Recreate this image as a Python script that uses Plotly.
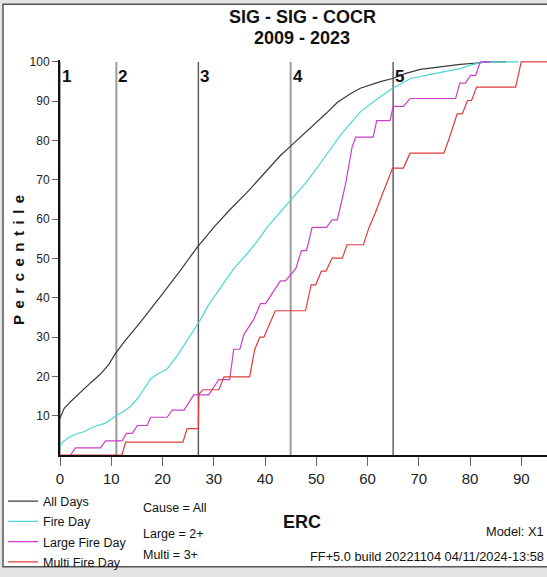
import plotly.graph_objects as go

# ---------------- data ----------------
title_lines = ["SIG - SIG - COCR", "2009 - 2023"]
x_label = "ERC"
y_label = "Percentile"
series_names = ["All Days", "Fire Day", "Large Fire Day", "Multi Fire Day"]

all_days_erc = [0, 0.8, 2, 4, 6, 7.9, 9.5, 10.8, 12.8, 15.7, 18, 20, 23.5, 26.8, 30, 33,
                36.5, 40.4, 43, 45, 47, 49.5, 52, 54.1, 56.5, 58.6, 60.5, 62.5, 64.9,
                67.5, 70.3, 74, 78.1, 82, 84, 87]
all_days_pct = [9.3, 11.8, 13.5, 16.0, 18.4, 20.6, 23.0, 25.8, 29.2, 33.8, 37.6, 41.0, 47.0,
                52.9, 57.9, 62.2, 66.8, 72.6, 76.2, 78.6, 81.0, 83.9, 87.0, 89.7, 91.8,
                93.3, 94.2, 95.0, 95.8, 97.1, 98.1, 98.8, 99.4, 99.8, 100, 100]

fire_erc = [0, 0.5, 1.2, 2.05, 3.3, 4.65, 6.6, 8.9, 10.8, 12.3, 13.8, 15.2, 16.4, 17.7,
            19.3, 20.9, 22.9, 23.5, 25.5, 27.4, 29, 30.7, 32.3, 33.9, 36.5, 38.5, 40.4,
            42.7, 45.0, 48.2, 51.5, 54.7, 58.6, 61.9, 64.9, 68.4, 72, 76.2, 78.1, 80.1,
            82.7, 89.5]
fire_pct = [2.2, 3.2, 4.0, 4.7, 5.4, 5.9, 7.2, 8.1, 9.9, 11.0, 12.4, 14.5, 16.8, 19.4,
            20.8, 21.9, 25.3, 26.5, 30.5, 34.4, 38.2, 41.5, 44.5, 47.4, 51.2, 54.4, 57.9,
            61.3, 64.6, 69.6, 75.5, 81.4, 87.3, 90.6, 93.3, 95.8, 96.8, 97.7, 98.3, 99.2,
            100, 100]

large_erc = [2.05, 3.0, 7.9, 8.9, 12.1, 12.97, 14.1, 15.1, 17.0, 17.7, 20.9, 21.9, 24.2,
             26.1, 29.0, 31.0, 33.1, 33.9, 35.1, 35.9, 37.8, 39.1, 40.1, 43.0, 44.0, 46.0,
             47.1, 48.1, 49.2, 52.0, 53.1, 54.1, 55.7, 57.0, 57.7, 61.1, 61.8, 64.4, 65.0,
             67.0, 68.3, 77.2, 78.0, 79.1, 80.1, 81.1, 82.0, 84.0]
large_pct = [0, 1.8, 1.8, 3.6, 3.6, 5.5, 5.5, 7.5, 7.5, 9.6, 9.6, 11.4, 11.4, 15.3, 15.3,
             19.2, 19.2, 26.9, 26.9, 30.7, 34.5, 38.5, 38.5, 44.3, 44.3, 47.4, 52.0, 52.0,
             57.9, 57.9, 59.8, 59.8, 68.8, 78.4, 80.9, 80.9, 85.1, 85.1, 88.7, 88.7, 90.7,
             90.7, 94.6, 94.6, 96.6, 96.6, 100, 100]

multi_erc = [0, 12.1, 12.8, 24.0, 24.8, 27.0, 27.1, 27.9, 31.0, 32.0, 37.0, 38.0, 39.0,
             39.8, 42.0, 47.9, 49.0, 49.9, 51.0, 51.9, 53.1, 55.1, 56.0, 59.2, 60.3, 61.5,
             62.5, 63.5, 64.9, 67.0, 68.3, 74.9, 75.9, 77.5, 78.5, 79.5, 80.3, 81.3, 88.9,
             90.0, 96]
multi_pct = [0, 0, 3.3, 3.3, 6.7, 6.7, 15.5, 16.6, 16.6, 19.9, 19.9, 26.9, 30.0, 30.0,
             36.7, 36.7, 43.3, 43.3, 46.8, 46.8, 50.1, 50.1, 53.5, 53.5, 57.9, 61.5, 65.0,
             68.5, 73.0, 73.0, 76.8, 76.8, 80.4, 86.8, 86.8, 90.2, 90.2, 93.6, 93.6, 100, 100]

marker_erc = [0, 11, 27, 45, 65]
marker_labels = ["1", "2", "3", "4", "5"]
x_ticks = [0, 10, 20, 30, 40, 50, 60, 70, 80, 90]
y_ticks = [10, 20, 30, 40, 50, 60, 70, 80, 90, 100]
notes_left = ["Cause = All", "Large = 2+", "Multi = 3+"]
model_text = "Model: X1"
build_text = "FF+5.0 build 20221104 04/11/2024-13:58"

# ---------------- layout geometry ----------------
W, H = 547, 577
ML, MR, MT, MB = 60, 0, 60, 116
PW, PH = W - ML - MR, H - MT - MB
PX_PER_ERC = 5.125
X_MAX = PW / PX_PER_ERC
Y_MAX = 100.5

def px2x(px):
    return (px - ML) / PW

def py2y(py):
    return (H - MB - py) / PH

FONT = "Liberation Sans, Arial, sans-serif"

colors = ["#3a3a3a", "#4dd6d6", "#cc3fcc", "#e03c3c"]
marker_colors = ["#777777", "#9a9a9a", "#555555", "#9a9a9a", "#555555"]
marker_widths = [1.3, 2, 1.4, 2, 1.4]

fig = go.Figure()

# vertical marker lines
for i, v in enumerate(marker_erc):
    fig.add_trace(go.Scatter(x=[v, v], y=[0, 100], mode="lines",
                             line=dict(color=marker_colors[i], width=marker_widths[i]),
                             showlegend=False, hoverinfo="skip"))

series = [(all_days_erc, all_days_pct), (fire_erc, fire_pct),
          (large_erc, large_pct), (multi_erc, multi_pct)]
for k, ((xs, ys), name, c) in enumerate(zip(series, series_names, colors)):
    fig.add_trace(go.Scatter(x=xs, y=ys, mode="lines", name=name, legendgroup="g%d" % k,
                             line=dict(color=c, width=1.2)))

annotations = []
# title
for txt, cy in zip(title_lines, [16.5, 38]):
    annotations.append(dict(text="<b>%s</b>" % txt, x=px2x(302), y=py2y(cy),
                            xref="paper", yref="paper", showarrow=False, xanchor="center",
                            yanchor="middle", font=dict(family=FONT, size=18, color="#111")))
# marker labels
for v, lab in zip(marker_erc, marker_labels):
    annotations.append(dict(text="<b>%s</b>" % lab, x=v, y=py2y(76.3), xref="x",
                            yref="paper", showarrow=False, xanchor="left",
                            yanchor="middle", font=dict(family=FONT, size=17, color="#111")))
# axis titles
annotations.append(dict(text="<b>%s</b>" % x_label, x=px2x(302), y=py2y(529),
                        xref="paper", yref="paper", showarrow=False, xanchor="center",
                        yanchor="middle", font=dict(family=FONT, size=18, color="#111")))
annotations.append(dict(text='<span style="letter-spacing:6.5px"><b>%s</b></span>' % y_label,
                        x=px2x(18.5), y=py2y(259.5), xref="paper", yref="paper",
                        showarrow=False, textangle=-90, xanchor="center", yanchor="middle",
                        font=dict(family=FONT, size=15, color="#111")))
# notes
for txt, cy in zip(notes_left, [514.5, 541.5, 563]):
    annotations.append(dict(text=txt, x=px2x(140.5), y=py2y(cy), xref="paper", yref="paper",
                            showarrow=False, xanchor="left", yanchor="middle",
                            font=dict(family=FONT, size=12.5, color="#111")))
annotations.append(dict(text=model_text, x=px2x(546), y=py2y(539), xref="paper", yref="paper",
                        showarrow=False, xanchor="right", yanchor="middle",
                        font=dict(family=FONT, size=12.8, color="#111")))
annotations.append(dict(text=build_text, x=px2x(546), y=py2y(564), xref="paper", yref="paper",
                        showarrow=False, xanchor="right", yanchor="middle",
                        font=dict(family=FONT, size=12.8, color="#111")))

shapes = [dict(type="rect", xref="paper", yref="paper", layer="below",
               x0=px2x(3), x1=px2x(620), y0=py2y(574.5), y1=py2y(3.5),
               fillcolor="white", line=dict(color="#555555", width=1.5))]

fig.update_layout(
    width=W, height=H,
    margin=dict(l=ML, r=MR, t=MT, b=MB, pad=0),
    paper_bgcolor="#e4e4e4",
    plot_bgcolor="rgba(0,0,0,0)",
    showlegend=True,
    legend=dict(x=px2x(3), y=py2y(493), xanchor="left", yanchor="top",
                bgcolor="rgba(0,0,0,0)", borderwidth=0,
                font=dict(family=FONT, size=12.5, color="#111"),
                itemwidth=30, tracegroupgap=1),
    annotations=annotations,
    shapes=shapes,
    xaxis=dict(range=[0, X_MAX], tickvals=x_ticks, ticks="outside", ticklen=9,
               tickwidth=1.3, tickcolor="#666", showline=True, linecolor="#111",
               linewidth=2, showgrid=False, zeroline=False,
               tickfont=dict(family=FONT, size=15, color="#222")),
    yaxis=dict(range=[0, Y_MAX], tickvals=y_ticks, ticks="outside", ticklen=6,
               tickwidth=1.3, tickcolor="#666", showline=True, linecolor="#111",
               linewidth=2, showgrid=False, zeroline=False,
               tickfont=dict(family=FONT, size=12, color="#222")),
)

fig.write_html("out.html", config={"displayModeBar": False},
               post_script="document.body.style.margin='0';document.body.style.overflow='hidden';")
